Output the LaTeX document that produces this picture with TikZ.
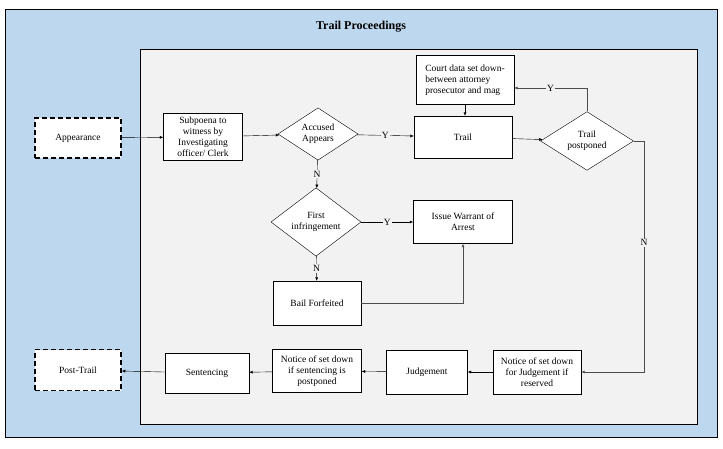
\documentclass[tikz,border=0pt]{standalone}
\usepackage{fontspec}
\setmainfont{Liberation Serif}
\usetikzlibrary{arrows.meta,positioning,shapes.geometric}
\definecolor{panelblue}{HTML}{BDD7EE}
\definecolor{panelgrey}{HTML}{F2F2F2}

\begin{document}
\begin{tikzpicture}[x=1pt, y=-1pt, font=\fontsize{9.5}{11}\selectfont,
  box/.style={draw, fill=white, align=center, inner sep=2pt},
  term/.style={box, line width=1.5pt, dash pattern=on 5pt off 3pt, minimum width=86pt, minimum height=40pt},
  dec/.style={diamond, draw, fill=white, align=center, inner sep=0pt},
  lbl/.style={fill=panelgrey, inner sep=1pt},
  grey/.style={draw=gray!60!black, line width=1pt},
  >={Latex[length=3.5pt,width=3pt]}]
\useasboundingbox (0,0) rectangle (723,448);
\node[draw, line width=0.9pt, fill=panelblue, minimum width=712pt, minimum height=428pt] (frame) at (361,223) {};
\node[font=\fontsize{12}{14}\selectfont\bfseries] (title) at (361,27) {Trail Proceedings};
\node[draw, fill=panelgrey, minimum width=557pt, minimum height=375pt] (panel) at (418.5,236.5) {};
% top row
\node[term] (app) at (78,138) {Appearance};
\node[box, minimum width=79pt, minimum height=47pt] (subp) at (203,137) {Subpoena to\\witness by\\Investigating\\officer/ Clerk};
\node[dec, minimum width=80pt, minimum height=51pt] (acc) at (318,134) {Accused\\Appears};
\node[box, minimum width=98pt, minimum height=42pt] (trail) at (463,137) {Trail};
\node[box, align=left, minimum width=98pt, minimum height=49pt] (court) at (465,80) {Court data set down-\\between attorney\\prosecutor and mag};
\node[dec, minimum width=93pt, minimum height=46pt] (post) at (587,141) {Trail\\postponed};
% middle
\node[dec, minimum width=90pt, minimum height=51pt] (first) at (316,222) {First\\infringement};
\node[box, minimum width=99pt, minimum height=43pt] (warrant) at (463,222) {Issue Warrant of\\Arrest};
\node[box, minimum width=88pt, minimum height=44pt] (bail) at (317,303) {Bail Forfeited};
% bottom row
\node[box, minimum width=88pt, minimum height=44pt] (not1) at (537,372) {Notice of set down\\for Judgement if\\reserved};
\node[box, minimum width=81pt, minimum height=44pt] (judg) at (427,372) {Judgement};
\node[box, minimum width=89pt, minimum height=43pt] (not2) at (317,371) {Notice of set down\\if sentencing is\\postponed};
\node[box, minimum width=84pt, minimum height=40pt] (sent) at (207,373) {Sentencing};
\node[term, minimum height=41pt] (end) at (78,370) {Post-Trail};
\coordinate (nturn) at (644,141);

\draw[->] (app) -- (subp);
\draw[->] (subp) -- (acc);
\draw[->] (acc) -- node[lbl]{Y} (trail);
\draw[->] (acc) -- node[lbl]{N} (first);
\draw[->] (court.south) -- (court.south |- trail.north);
\draw[->] (trail) -- (post);
\draw[->, grey] (post.north) |- node[lbl, pos=0.75]{Y} ([yshift=-8pt]court.east);
\draw[->, grey] (post.east) -- (nturn) |- node[lbl, pos=0.22]{N} (not1.east);
\draw[->] (first) -- node[lbl]{Y} (warrant);
\draw[->] (first) -- node[lbl]{N} (bail);
\draw[->, grey] (bail.east) -| (warrant.south);
\draw[->] (not1) -- (judg);
\draw[->] (judg) -- (not2);
\draw[->] (not2) -- (sent);
\draw[->] (sent) -- (end);
\end{tikzpicture}
\end{document}
